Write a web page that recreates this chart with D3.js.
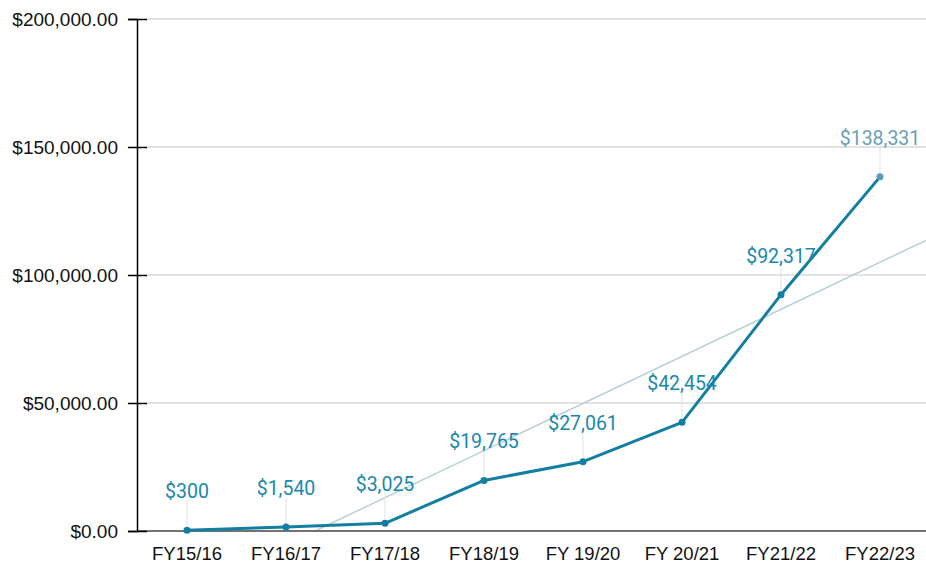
<!DOCTYPE html>
<html>
<head>
<meta charset="utf-8">
<script src="https://cdn.jsdelivr.net/npm/d3@7"></script>
<style>
  body { margin: 0; background: #fff; }
  svg { display: block; }
</style>
</head>
<body>
<svg id="chart" width="926" height="566"></svg>
<script>
var years = ["FY15/16", "FY16/17", "FY17/18", "FY18/19", "FY 19/20", "FY 20/21", "FY21/22", "FY22/23"];
var amounts = [300, 1540, 3025, 19765, 27061, 42454, 92317, 138331];
var yTicks = [0, 50000, 100000, 150000, 200000];

var svg = d3.select("#chart"),
  width = +svg.attr("width"),
  height = +svg.attr("height");

var margin = { top: 19, right: 0, bottom: 35, left: 137 };

var x = d3.scalePoint()
  .domain(years)
  .range([187, 880]);

var y = d3.scaleLinear()
  .domain([0, 200000])
  .range([height - margin.bottom, margin.top]);

var fmtAxis = d => "$" + d3.format(",.2f")(d);
var fmtLabel = d => "$" + d3.format(",")(d);

// gridlines
svg.append("g")
  .selectAll("line")
  .data(yTicks.filter(d => d > 0))
  .join("line")
  .attr("x1", margin.left + 10)
  .attr("x2", width)
  .attr("y1", d => y(d))
  .attr("y2", d => y(d))
  .attr("stroke", "#c8c8c8")
  .attr("stroke-width", 1.2);

// linear trend line (least squares fit of the series)
var n = amounts.length;
var mx = d3.mean(amounts, (d, i) => i), my = d3.mean(amounts);
var slope = d3.sum(amounts, (d, i) => (i - mx) * (d - my)) / d3.sum(amounts, (d, i) => (i - mx) * (i - mx));
var icpt = my - slope * mx;
var step = x.step();
var xAt = px => (px - x(years[0])) / step;
var x0 = x(years[0]) + (-icpt / slope) * step; // where trend crosses zero
var x1 = width;

svg.append("defs").append("clipPath").attr("id", "plot")
  .append("rect")
  .attr("x", margin.left).attr("y", margin.top)
  .attr("width", width - margin.left).attr("height", y(0) - margin.top);

svg.append("line")
  .attr("clip-path", "url(#plot)")
  .attr("x1", x0).attr("y1", y(0))
  .attr("x2", x1).attr("y2", y(icpt + slope * xAt(x1)))
  .attr("stroke", "#b9cfd8")
  .attr("stroke-width", 1.5);

// x axis baseline
svg.append("line")
  .attr("x1", margin.left).attr("x2", width)
  .attr("y1", y(0)).attr("y2", y(0))
  .attr("stroke", "#444")
  .attr("stroke-width", 1.5);

// y axis
var yAxis = svg.append("g")
  .attr("transform", `translate(${margin.left},0)`)
  .call(d3.axisLeft(y).tickValues(yTicks).tickFormat(fmtAxis).tickSize(9).tickPadding(10));
yAxis.select(".domain").attr("stroke", "#000").attr("stroke-width", 1.5);
yAxis.selectAll(".tick line").attr("x2", 10).attr("x1", -9).attr("stroke", "#000").attr("stroke-width", 1.5);
yAxis.selectAll(".tick text")
  .attr("x", -19)
  .attr("fill", "#111")
  .style("font-family", "'Liberation Sans', Arial, sans-serif")
  .style("font-size", "19px");

// x labels
svg.append("g")
  .selectAll("text")
  .data(years)
  .join("text")
  .attr("x", d => x(d))
  .attr("y", y(0) + 29)
  .attr("text-anchor", "middle")
  .attr("fill", "#111")
  .style("font-family", "'Liberation Sans', Arial, sans-serif")
  .style("font-size", "18.5px")
  .text(d => d);

// leader lines
svg.append("g")
  .selectAll("line")
  .data(amounts)
  .join("line")
  .attr("x1", (d, i) => x(years[i]))
  .attr("x2", (d, i) => x(years[i]))
  .attr("y1", d => y(d) - 4)
  .attr("y2", d => y(d) - 30)
  .attr("stroke", "#dde3e6")
  .attr("stroke-width", 1);

// main line
var line = d3.line()
  .x((d, i) => x(years[i]))
  .y(d => y(d));

svg.append("path")
  .datum(amounts)
  .attr("d", line)
  .attr("fill", "none")
  .attr("stroke", "#137fa0")
  .attr("stroke-width", 3)
  .attr("stroke-linejoin", "round");

svg.append("g")
  .selectAll("circle")
  .data(amounts)
  .join("circle")
  .attr("cx", (d, i) => x(years[i]))
  .attr("cy", d => y(d))
  .attr("r", 3.5)
  .attr("fill", (d, i) => i == n - 1 ? "#5d9bb2" : "#137fa0");

// data labels
svg.append("g")
  .selectAll("text")
  .data(amounts)
  .join("text")
  .attr("x", (d, i) => x(years[i]))
  .attr("y", d => y(d) - 32)
  .attr("text-anchor", "middle")
  .attr("fill", (d, i) => i == n - 1 ? "#6a9fb5" : "#1a88ab")
  .style("font-family", "Roboto, sans-serif")
  .style("font-size", "19.5px")
  .text(d => fmtLabel(d));
</script>
</body>
</html>
